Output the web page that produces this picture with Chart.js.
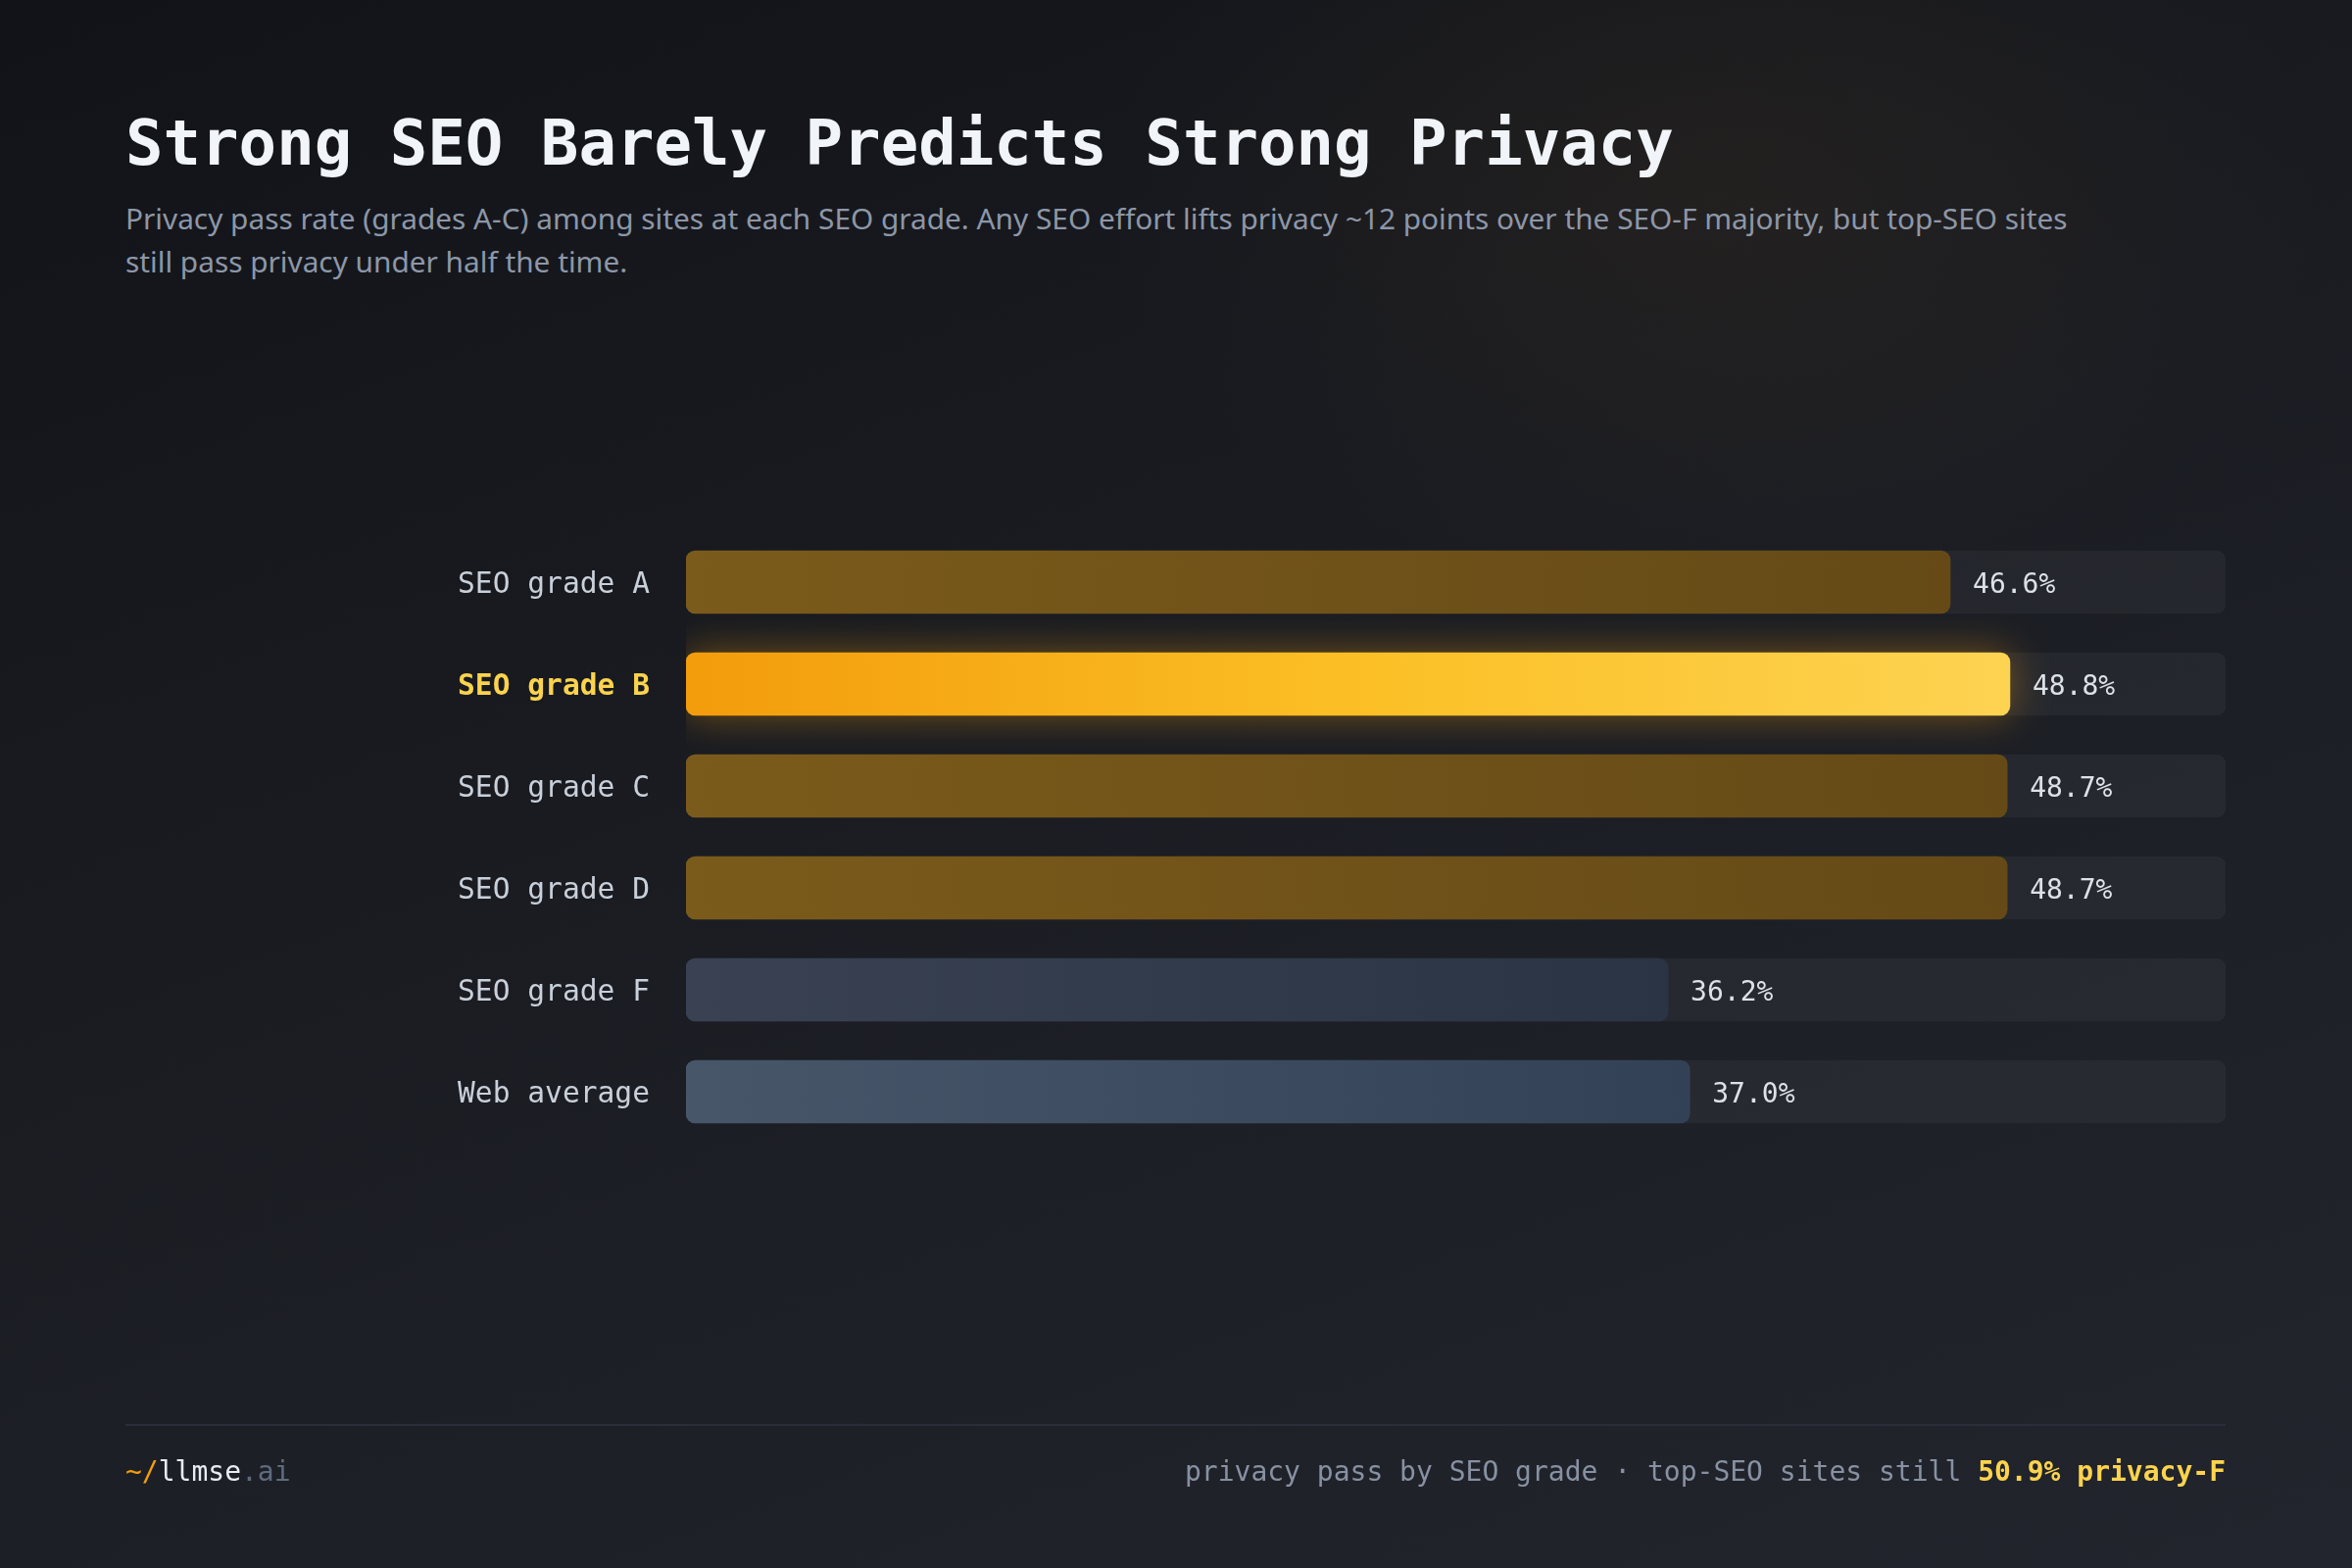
<!DOCTYPE html>
<html>
<head>
<meta charset="utf-8">
<script src="https://cdn.jsdelivr.net/npm/chart.js@4.4.1/dist/chart.umd.min.js"></script>
<style>
  html, body { margin: 0; padding: 0; }
  body {
    width: 2400px; height: 1600px; overflow: hidden; position: relative;
    background:
      radial-gradient(ellipse 900px 600px at 1750px 200px, rgba(180,120,30,0.07), rgba(0,0,0,0) 70%),
      linear-gradient(160deg, #111318 0%, #1a1c22 45%, #22252d 100%);
  }
  #title {
    position: absolute; left: 128px; top: 114px; margin: 0;
    font-family: "DejaVu Sans Mono", monospace; font-weight: bold;
    font-size: 64px; line-height: 64px; color: #f1f4f8; white-space: nowrap;
  }
  #subtitle {
    position: absolute; left: 128px; top: 201px; margin: 0;
    font-family: "Noto Sans", sans-serif; font-size: 29.8px; line-height: 44px;
    color: #8d97a8; white-space: nowrap;
  }
  #chartWrap { position: absolute; left: 0; top: 0; width: 2400px; height: 1600px; }
  #rule { position: absolute; left: 128px; top: 1453px; width: 2143px; height: 2px; background: #2a2e38; }
  .foot {
    position: absolute; top: 1484px; font-family: "DejaVu Sans Mono", monospace;
    font-size: 28px; line-height: 36px; white-space: nowrap;
  }
  #footL { left: 128px; color: #e8ebf0; }
  #footR { right: 129px; color: #8891a2; }
</style>
</head>
<body>
<h1 id="title">Strong SEO Barely Predicts Strong Privacy</h1>
<p id="subtitle">Privacy pass rate (grades A-C) among sites at each SEO grade. Any SEO effort lifts privacy ~12 points over the SEO-F majority, but top-SEO sites<br>still pass privacy under half the time.</p>
<div id="chartWrap"><canvas id="c" width="2400" height="1600"></canvas></div>
<div id="rule"></div>
<div class="foot" id="footL"><span style="color:#f59e0b">~/</span>llmse<span style="color:#5f6b7e">.ai</span></div>
<div class="foot" id="footR">privacy pass by SEO grade · top-SEO sites still <b style="color:#fcd34d">50.9% privacy-F</b></div>
<script>
// ---- data ----
const categories = ["SEO grade A", "SEO grade B", "SEO grade C", "SEO grade D", "SEO grade F", "Web average"];
const passRates = [46.6, 48.8, 48.7, 48.7, 36.2, 37.0];
const highlightIndex = 1;
const scaleMax = 56.75;

// ---- styles ----
const barStops = [
  ["#7b5b1b", "#654a17"],
  ["#f39c0b", "#fbbf24", "#fdd352"],
  ["#7b5b1b", "#654a17"],
  ["#7b5b1b", "#654a17"],
  ["#394153", "#2b3444"],
  ["#475669", "#334156"]
];

function barGradient(ctx) {
  const chart = ctx.chart;
  if (!chart.chartArea || ctx.raw == null) return "transparent";
  const xs = chart.scales.x;
  const x0 = xs.getPixelForValue(0);
  const x1 = xs.getPixelForValue(ctx.raw);
  const g = chart.ctx.createLinearGradient(x0, 0, x1, 0);
  const stops = barStops[ctx.dataIndex];
  stops.forEach((c, i) => g.addColorStop(i / (stops.length - 1), c));
  return g;
}

const mainData = passRates.map((v, i) => i === highlightIndex ? null : v);
const hiData = passRates.map((v, i) => i === highlightIndex ? v : null);
const trackData = categories.map(() => scaleMax);

const glowPlugin = {
  id: "glow",
  beforeDatasetDraw(chart, args) {
    if (args.index === 1) {
      const c = chart.ctx;
      c.save();
      c.shadowColor = "rgba(245,158,11,0.42)";
      c.shadowBlur = 40;
    }
  },
  afterDatasetDraw(chart, args) {
    if (args.index === 1) chart.ctx.restore();
  }
};

const valueLabels = {
  id: "valueLabels",
  afterDatasetsDraw(chart) {
    const c = chart.ctx;
    const xs = chart.scales.x, ys = chart.scales.y;
    c.save();
    c.font = "28px 'DejaVu Sans Mono', monospace";
    c.fillStyle = "#dde1e8";
    c.textAlign = "left";
    c.textBaseline = "middle";
    passRates.forEach((v, i) => {
      c.fillText(v.toFixed(1) + "%", xs.getPixelForValue(v) + 23, ys.getPixelForValue(i) + 4);
    });
    c.restore();
  }
};

new Chart(document.getElementById("c"), {
  type: "bar",
  data: {
    labels: categories,
    datasets: [
      { data: mainData, backgroundColor: barGradient, borderRadius: 10, borderSkipped: false, grouped: false, categoryPercentage: 1, barThickness: 64 },
      { data: hiData, backgroundColor: barGradient, borderRadius: 10, borderSkipped: false, grouped: false, categoryPercentage: 1, barThickness: 64 },
      { data: trackData, backgroundColor: "rgba(255,255,255,0.045)", borderRadius: 10, borderSkipped: false, grouped: false, categoryPercentage: 1, barThickness: 64 }
    ]
  },
  options: {
    indexAxis: "y",
    responsive: false,
    animation: false,
    layout: { padding: { left: 0, right: 129, top: 542, bottom: 434 } },
    plugins: { legend: { display: false }, tooltip: { enabled: false } },
    scales: {
      x: { min: 0, max: scaleMax, display: false },
      y: {
        grid: { display: false, drawTicks: false },
        border: { display: false },
        afterFit(scale) { scale.width = 700; },
        ticks: {
          padding: 37,
          labelOffset: 3,
          font: (ctx) => ({ family: "'DejaVu Sans Mono', monospace", size: 29.6, weight: ctx.index === highlightIndex ? "bold" : "normal" }),
          color: (ctx) => ctx.index === highlightIndex ? "#fcd34d" : "#c9d0da"
        }
      }
    }
  },
  plugins: [glowPlugin, valueLabels]
});
</script>
</body>
</html>
